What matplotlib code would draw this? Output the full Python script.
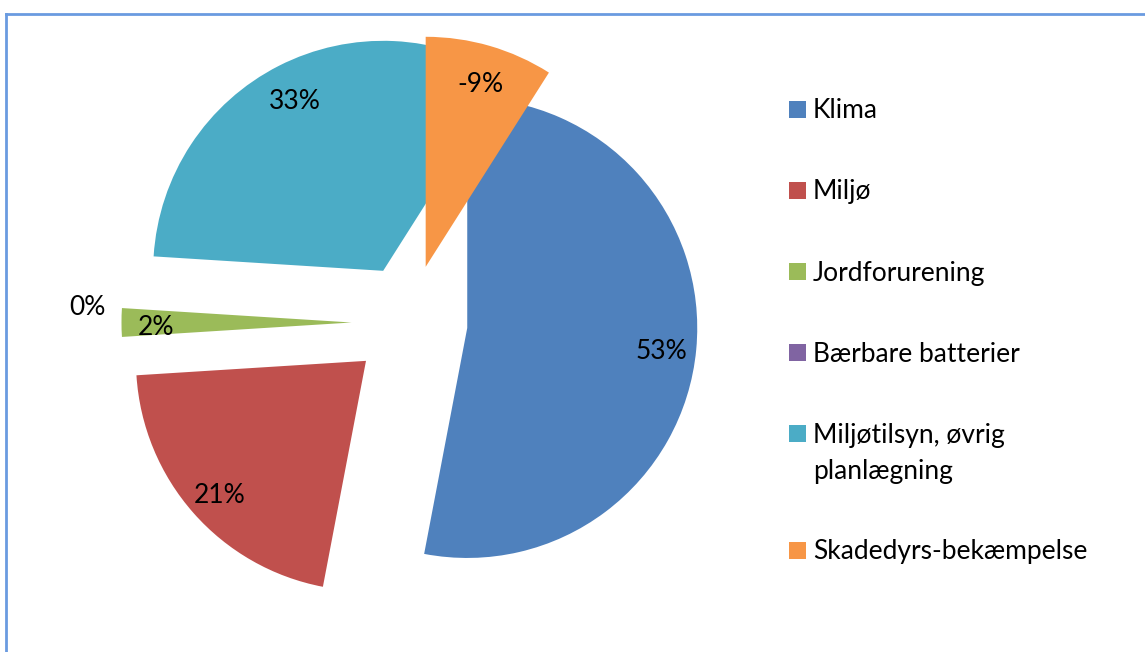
import numpy as np
import matplotlib
matplotlib.use("Agg")
import matplotlib.pyplot as plt
from matplotlib.patches import Wedge, Rectangle
from matplotlib.lines import Line2D

categories = ["Klima", "Miljø", "Jordforurening", "Bærbare batterier",
              "Miljøtilsyn, øvrig\nplanlægning", "Skadedyrs-bekæmpelse"]
values = [53, 21, 2, 0, 33, -9]
labels = ["53%", "21%", "2%", "0%", "33%", "-9%"]
colors = ["#4F81BD", "#C0504D", "#9BBB59", "#8064A2", "#4BACC6", "#F79646"]

W, H = 1145, 652
fig = plt.figure(figsize=(W / 100, H / 100), dpi=100)
ax = fig.add_axes([0, 0, 1, 1])
ax.set_xlim(0, W)
ax.set_ylim(H, 0)
ax.set_aspect("equal")
ax.axis("off")

FONT = "Lato"
FS = 19

# chart border (top and left visible)
fig.add_artist(Line2D([6 / W, 6 / W], [0, 1 - 13.5 / H], color="#6A9BE0", lw=2))
fig.add_artist(Line2D([6 / W, 1], [1 - 13.5 / H, 1 - 13.5 / H], color="#6A9BE0", lw=2))

cx, cy, R, d = 409.5, 322.5, 230, 58
total = 100.0
start = 0.0
for v, col, lab in zip(values, colors, labels):
    end = start + v
    a, b = min(start, end), max(start, end)
    pa, pb = a / total * 360, b / total * 360
    pm = np.radians((pa + pb) / 2)
    ox, oy = cx + d * np.sin(pm), cy - d * np.cos(pm)
    w = Wedge((ox, oy), R, pa - 90, pb - 90, facecolor=col, edgecolor="none")
    ax.add_patch(w)
    rr = R * (0.85 if v != 0 else 1.15)
    tx, ty = ox + rr * np.sin(pm), oy - rr * np.cos(pm) + 5
    ax.text(tx, ty, lab, ha="center", va="center", fontsize=FS, family=FONT, color="black")
    start = end

# legend
ly = 109
for cat, col in zip(categories, colors):
    ax.add_patch(Rectangle((789, ly - 8.5), 17, 17, facecolor=col, edgecolor="none"))
    first, *rest = cat.split("\n")
    ax.text(813, ly + 2, first, ha="left", va="center", fontsize=FS, family=FONT, color="black")
    for k, line in enumerate(rest, 1):
        ax.text(813, ly + 2 + 37 * k, line, ha="left", va="center", fontsize=FS,
                family=FONT, color="black")
    ly += 81 + 36 * len(rest)

fig.savefig("out.png", dpi=100, facecolor="white")
